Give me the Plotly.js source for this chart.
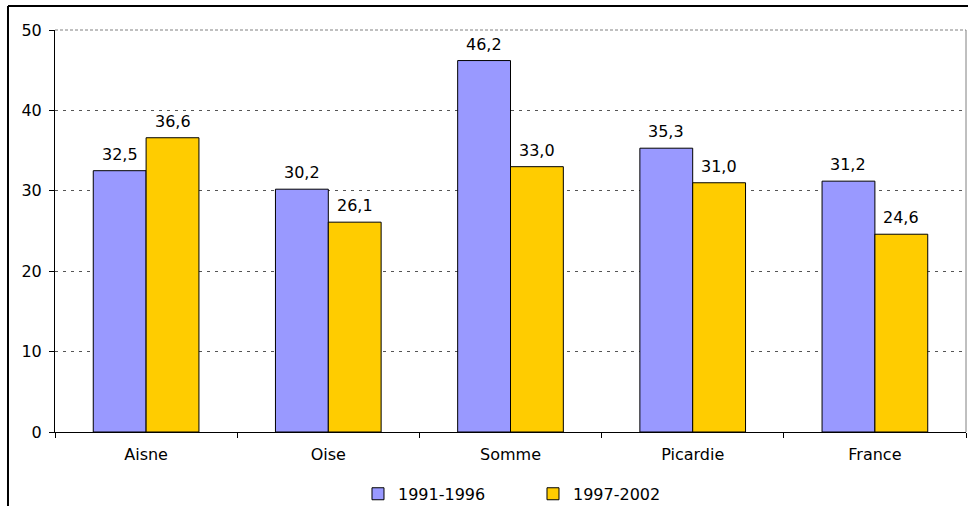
<!DOCTYPE html>
<html lang="fr">
<head>
    <meta charset="UTF-8">
    <title>Aisne, Oise, Somme, Picardie, France</title>
    <script src="https://cdn.plot.ly/plotly-3.0.1.min.js"></script>
    <style>
        * { margin: 0; padding: 0; box-sizing: border-box; }
        body { background: #ffffff; width: 968px; height: 506px; overflow: hidden; }
        #plot { width: 968px; height: 506px; }
    </style>
</head>
<body>
    <div id="plot"></div>

    <script>
        // Categories and values
        const categories = ['Aisne', 'Oise', 'Somme', 'Picardie', 'France'];
        const seriesNames = ['1991-1996', '1997-2002'];
        const values1991 = [32.5, 30.2, 46.2, 35.3, 31.2];
        const values1997 = [36.6, 26.1, 33.0, 31.0, 24.6];
        const yTicks = [0, 10, 20, 30, 40, 50];

        const fontFamily = 'Verdana, "DejaVu Sans", sans-serif';
        const barGap = 0.42;

        function barTrace(name, values, color) {
            return {
                type: 'bar',
                name: name,
                x: categories,
                y: values,
                marker: { color: color, line: { color: '#000000', width: 1 } },
                hoverinfo: 'skip'
            };
        }

        const traces = [
            barTrace(seriesNames[0], values1991, '#9999FF'),
            barTrace(seriesNames[1], values1997, '#FFCC00')
        ];

        // value labels above each bar (comma decimal, a bit of air above the bar)
        const plotWidth = 968 - 55 - 2;
        const halfBar = plotWidth / categories.length * (1 - barGap) / 4;
        const fmt = v => v.toFixed(1).replace('.', ',');
        const labels = [];
        [values1991, values1997].forEach((vals, s) => {
            vals.forEach((v, i) => {
                labels.push({
                    x: categories[i], y: v, xref: 'x', yref: 'y',
                    text: fmt(v), showarrow: false,
                    xshift: s === 0 ? -halfBar : halfBar,
                    yanchor: 'bottom', yshift: 5,
                    font: { family: fontFamily, size: 16, color: '#000000' }
                });
            });
        });

        const layout = {
            width: 968,
            height: 506,
            separators: ', ',
            font: { family: fontFamily, size: 16, color: '#000000' },
            paper_bgcolor: '#ffffff',
            plot_bgcolor: '#ffffff',
            margin: { l: 55, r: 2, t: 30, b: 74, autoexpand: false },
            barmode: 'group',
            bargap: barGap,
            bargroupgap: 0,
            showlegend: true,
            legend: {
                orientation: 'h',
                x: 0.3326,
                xanchor: 'left',
                yref: 'container',
                y: 0.024,
                yanchor: 'middle',
                entrywidth: 130,
                font: { family: fontFamily, size: 16 },
                itemclick: false
            },
            xaxis: {
                type: 'category',
                automargin: false,
                showline: true,
                linecolor: '#000000',
                linewidth: 1,
                ticks: 'outside',
                tickson: 'boundaries',
                ticklen: 5,
                tickcolor: '#000000',
                ticklabelstandoff: 8,
                showgrid: false,
                zeroline: false,
                tickfont: { family: fontFamily, size: 16 }
            },
            yaxis: {
                range: [0, 50],
                automargin: false,
                tickvals: yTicks,
                showline: true,
                linecolor: '#000000',
                linewidth: 1,
                ticks: 'outside',
                ticklen: 5,
                tickcolor: '#000000',
                ticklabelstandoff: 4,
                showgrid: true,
                gridcolor: '#555555',
                gridwidth: 1,
                griddash: '3px,5px',
                zeroline: false,
                tickfont: { family: fontFamily, size: 16 }
            },
            annotations: labels,
            shapes: [
                // gray plot-area edges at top and right
                { type: 'line', xref: 'paper', yref: 'paper', x0: 0, x1: 1, y0: 1, y1: 1,
                  line: { color: '#808080', width: 1, dash: '3px,2px' } },
                { type: 'line', xref: 'paper', yref: 'paper', x0: 1, x1: 1, y0: 0, y1: 1,
                  line: { color: '#808080', width: 1 } },
                // outer chart frame (top and left)
                { type: 'line', xref: 'paper', yref: 'paper', x0: -0.0516, x1: 1.01, y0: 1.0597, y1: 1.0597,
                  line: { color: '#000000', width: 2 } },
                { type: 'line', xref: 'paper', yref: 'paper', x0: -0.0516, x1: -0.0516, y0: -0.3, y1: 1.0597,
                  line: { color: '#000000', width: 2 } }
            ]
        };

        Plotly.newPlot('plot', traces, layout, { displayModeBar: false, staticPlot: true });
    </script>
</body>
</html>
